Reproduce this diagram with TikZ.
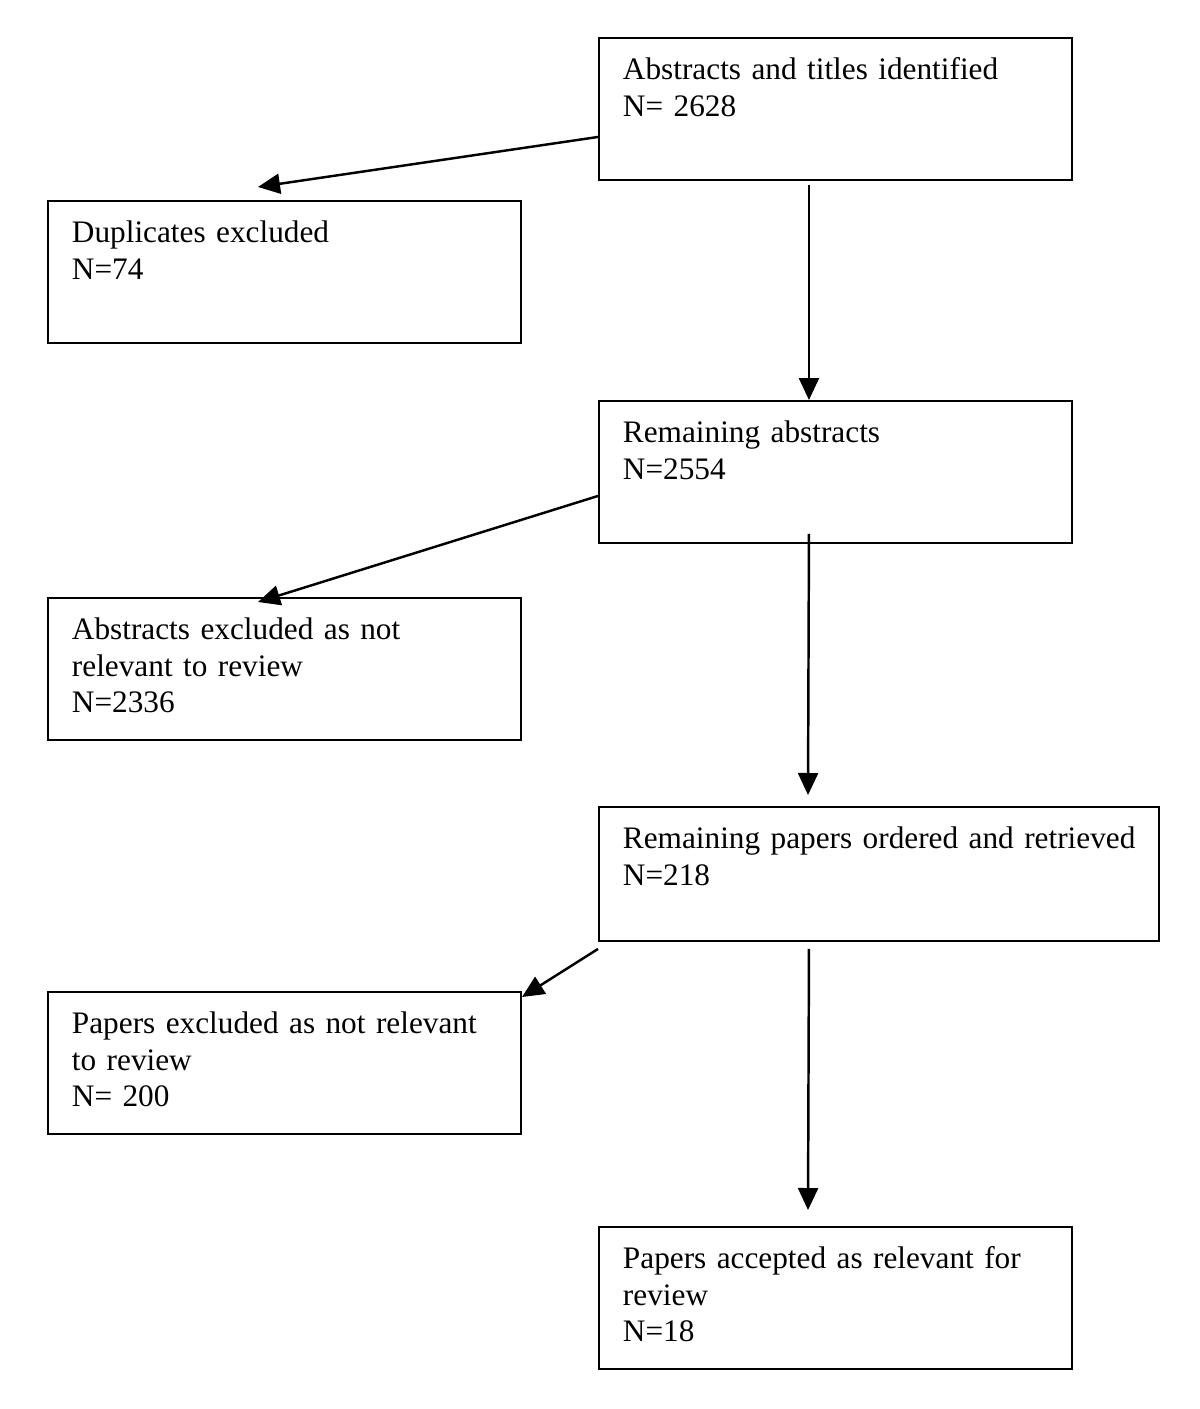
\documentclass[tikz,border=0pt]{standalone}
\usepackage{fontspec}
\setmainfont{Liberation Serif}
\usetikzlibrary{arrows.meta,calc}

\tikzset{
	box/.style={draw, line width=1.1pt, anchor=north west, align=left,
		text width=8.5cm, inner xsep=0.48cm, inner ysep=0pt,
		text height=0.84cm, text depth=2.0cm,
		font=\fontsize{17.8}{20.6}\selectfont},
	flow/.style={-{Triangle[length=0.44cm,width=0.4cm]}, line width=1.4pt}
}

\begin{document}
\begin{tikzpicture}
	\useasboundingbox (0,0) rectangle (24,-28.18);
	
	
	
	% main column
	\node[box] (ident) at (11.96,-0.74) {Abstracts and titles identified\\N= 2628};
	\node[box] (rem) at (11.96,-8.00) {Remaining abstracts\\N=2554};
	\node[box, text width=10.24cm, text depth=1.84cm] (papers) at (11.96,-16.12) {\mbox{Remaining papers ordered and retrieved}\\N=218};
	\node[box] (accepted) at (11.96,-24.52) {Papers accepted as relevant for\\review\\N=18};
	
	
	
	% excluded column
	\node[box] (dup) at (0.94,-4.00) {Duplicates excluded\\N=74};
	\node[box] (absex) at (0.94,-11.94) {Abstracts excluded as not\\relevant to review\\N=2336};
	\node[box] (papex) at (0.94,-19.82) {Papers excluded as not relevant\\to review\\N= 200};
	
	
	
	% free arrow ends
	\coordinate (dup in) at (5.16,-3.74);
	\coordinate (absex in) at (5.16,-12.04);
	\coordinate (papex in) at (10.44,-19.94);
	\coordinate (papers in) at (16.16,-15.90);
	\coordinate (accepted in) at (16.16,-24.20);
	
	
	
	% arrows down
	\draw[flow] ([xshift=-0.53cm,yshift=-0.08cm]ident.south) -- ([xshift=-0.53cm]rem.north);
	\draw[flow] ([xshift=-0.53cm,yshift=0.2cm]rem.south) -- (papers in);
	\draw[flow] ([xshift=-1.4cm,yshift=-0.14cm]papers.south) -- (accepted in);
	
	% arrows to the left
	\draw[flow] ([yshift=-0.56cm]ident.west) -- (dup in);
	\draw[flow] ([yshift=-0.48cm]rem.west) -- (absex in);
	\draw[flow] ([yshift=-0.14cm]papers.south west) -- (papex in);
	
\end{tikzpicture}
\end{document}
